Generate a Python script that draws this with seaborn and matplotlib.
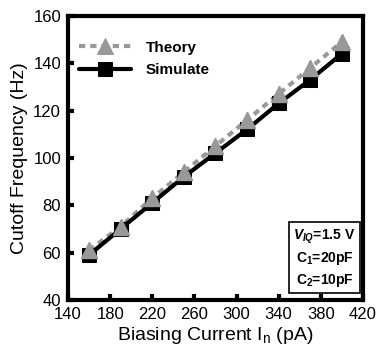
import matplotlib
matplotlib.use("Agg")
import matplotlib.pyplot as plt
import seaborn as sns
import pandas as pd

current = [160, 190, 220, 250, 280, 310, 340, 370, 400]
theory = [61, 71, 83, 94, 105, 116, 127, 138, 149]
simulate = [59, 70, 81, 92, 102, 112, 123, 133, 144]
xticks = [140, 180, 220, 260, 300, 340, 380, 420]
yticks = [40, 60, 80, 100, 120, 140, 160]

sns.set_theme(style="white")
fam = "Liberation Sans"
plt.rcParams['font.family'] = [fam, 'DejaVu Sans']
plt.rcParams['mathtext.fontset'] = 'custom'
plt.rcParams['mathtext.rm'] = fam
plt.rcParams['mathtext.it'] = fam + ':italic:bold'
plt.rcParams['mathtext.bf'] = fam + ':bold'
for k in ['text.color', 'axes.labelcolor', 'xtick.color', 'ytick.color']:
    plt.rcParams[k] = 'black'

df = pd.DataFrame({"I": current * 2, "F": theory + simulate,
                   "S": ["Theory"] * len(current) + ["Simulate"] * len(current)})

fig = plt.figure(figsize=(3.78, 3.6), dpi=100)
ax = fig.add_axes([0.18, 0.167, 0.78, 0.789])

sns.lineplot(data=df[df.S == "Theory"], x="I", y="F", ax=ax, color="#999999",
             linestyle=(0, (1.5, 1.2)), linewidth=3, marker="^", markersize=12,
             markeredgecolor="#999999", label="Theory")
sns.lineplot(data=df[df.S == "Simulate"], x="I", y="F", ax=ax, color="black",
             linewidth=3, marker="s", markersize=10, markeredgecolor="black",
             label="Simulate")
ax.plot(current, theory, linestyle="none", marker="^", markersize=12,
        color="#999999", markeredgecolor="#999999", zorder=5)

ax.set_xlim(140, 420)
ax.set_ylim(40, 160)
ax.set_xticks(xticks)
ax.set_yticks(yticks)
ax.tick_params(direction="in", length=4, width=3, labelsize=12, pad=5,
               bottom=True, left=True, colors="black")
for s in ax.spines.values():
    s.set_linewidth(3)
    s.set_color("black")
ax.set_xlabel("Biasing Current I$_\\mathregular{n}$ (pA)", fontsize=14, labelpad=2)
ax.set_ylabel("Cutoff Frequency (Hz)", fontsize=14, labelpad=4)

leg = ax.legend(loc="upper left", frameon=False, prop={"weight": "bold", "size": 11},
                handlelength=3.4, bbox_to_anchor=(0.0, 0.95), borderaxespad=0.3,
                labelspacing=0.55, handletextpad=1.0)
for t in leg.get_texts():
    t.set_color("black")

ax.text(0.87, 0.04, "$V_{IQ}$=1.5 V\nC$_\\mathbf{1}$=20pF\nC$_\\mathbf{2}$=10pF",
        transform=ax.transAxes, ha="center", va="bottom", fontsize=10,
        fontweight="bold", linespacing=1.35, color="black",
        bbox=dict(boxstyle="square,pad=0.3", fc="white", ec="black", lw=1.2))

fig.savefig("out.png", dpi=100)
